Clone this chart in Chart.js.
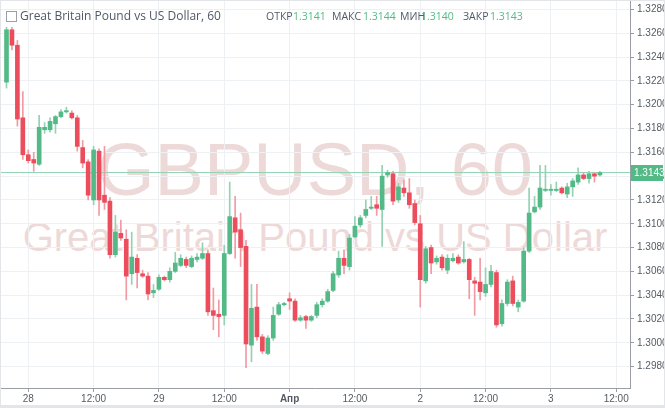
<!DOCTYPE html>
<html>
<head>
<meta charset="utf-8">
<script src="https://cdn.jsdelivr.net/npm/chart.js@4.4.0/dist/chart.umd.min.js"></script>
<style>
    body { margin: 0; background: #fff; }
    #wrap { position: relative; width: 665px; height: 408px; overflow: hidden; }
    #wm { position: absolute; left: 0; top: 0; width: 630px; color: #eed9d9;
          font-family: "Liberation Sans", Arial, sans-serif; text-align: center; z-index: 0; }
    #wm .l1 { position: absolute; left: 0; width: 630px; top: 126px; font-size: 74px; line-height: 88px; }
    #wm .l2 { position: absolute; left: 0; width: 630px; top: 215px; font-size: 40px; line-height: 44px; }
    #chart { position: absolute; left: 0; top: 0; z-index: 1; }
    #head { position: absolute; left: 0; top: 7px; z-index: 2; font-family: "Open Sans", sans-serif;
            white-space: nowrap; color: #4f5966; }
    #head span { position: absolute; top: 0; line-height: 18px; }
    #head .title { left: 20px; font-size: 12px; }
    #head .k { font-size: 10.5px; color: #4f5966; }
    #head .v { font-size: 10.5px; color: #53b987; }
    #head .box { top: 4px; width: 9px; height: 9px; border: 1px solid #9aa0a8; }
    #frame { position: absolute; left: 0; top: 0; right: 0; bottom: 0; border: 1px solid #e3e5e8;
             border-bottom-width: 3px; z-index: 3; pointer-events: none; }
</style>
</head>
<body>
<div id="wrap">
    <div id="wm">
        <div class="l1">GBPUSD, 60</div>
        <div class="l2">Great Britain Pound vs US Dollar</div>
    </div>
    <canvas id="chart" width="665" height="408"></canvas>
    <div id="head">
        <span class="box" style="left:6px"></span>
        <span class="title">Great Britain Pound vs US Dollar, 60</span>
        <span class="k" style="left:266px">ОТКР</span><span class="v" style="left:293px">1.3141</span>
        <span class="k" style="left:332px">МАКС</span><span class="v" style="left:363px">1.3144</span>
        <span class="k" style="left:400px">МИН</span><span class="v" style="left:421px">1.3140</span>
        <span class="k" style="left:463px">ЗАКР</span><span class="v" style="left:490px">1.3143</span>
    </div>
    <div id="frame"></div>
</div>
<script>
// hourly candles, GBPUSD 60
var opens = [1.3219, 1.3263, 1.3250, 1.3189, 1.3158, 1.3154, 1.3150, 1.3179, 1.3179, 1.3184,
    1.3190, 1.3194, 1.3193, 1.3189, 1.3164, 1.3152, 1.3120, 1.3161, 1.3124, 1.3119,
    1.3074, 1.3092, 1.3087, 1.3058, 1.3071, 1.3058, 1.3056, 1.3042, 1.3045, 1.3055,
    1.3053, 1.3060, 1.3065, 1.3070, 1.3064, 1.3070, 1.3071, 1.3075, 1.3027, 1.3024,
    1.3023, 1.3075, 1.3105, 1.3095, 1.3081, 1.2998, 1.3030, 1.3005, 1.2991, 1.3004,
    1.3024, 1.3032, 1.3037, 1.3035, 1.3019, 1.3022, 1.3019, 1.3023, 1.3032, 1.3035,
    1.3044, 1.3057, 1.3071, 1.3064, 1.3089, 1.3099, 1.3107, 1.3113, 1.3116, 1.3112,
    1.3141, 1.3142, 1.3120, 1.3130, 1.3126, 1.3117, 1.3100, 1.3052, 1.3080, 1.3068,
    1.3072, 1.3061, 1.3069, 1.3072, 1.3068, 1.3070, 1.3052, 1.3051, 1.3042, 1.3049,
    1.3059, 1.3016, 1.3033, 1.3052, 1.3030, 1.3035, 1.3077, 1.3110, 1.3114, 1.3128,
    1.3128, 1.3128, 1.3130, 1.3125, 1.3131, 1.3135, 1.3141, 1.3138, 1.3142, 1.3141];
var highs = [1.3265, 1.3265, 1.3254, 1.3211, 1.3162, 1.3160, 1.3191, 1.3185, 1.3189, 1.3191,
    1.3196, 1.3198, 1.3195, 1.3191, 1.3170, 1.3154, 1.3165, 1.3163, 1.3165, 1.3122,
    1.3107, 1.3103, 1.3095, 1.3093, 1.3074, 1.3061, 1.3059, 1.3049, 1.3057, 1.3056,
    1.3063, 1.3076, 1.3074, 1.3072, 1.3073, 1.3075, 1.3084, 1.3078, 1.3046, 1.3036,
    1.3082, 1.3135, 1.3123, 1.3109, 1.3086, 1.3049, 1.3049, 1.3007, 1.3006, 1.3030,
    1.3034, 1.3034, 1.3042, 1.3037, 1.3023, 1.3023, 1.3023, 1.3034, 1.3037, 1.3045,
    1.3060, 1.3077, 1.3078, 1.3091, 1.3106, 1.3107, 1.3120, 1.3123, 1.3123, 1.3149,
    1.3145, 1.3144, 1.3134, 1.3137, 1.3138, 1.3120, 1.3107, 1.3081, 1.3082, 1.3073,
    1.3074, 1.3074, 1.3075, 1.3074, 1.3085, 1.3071, 1.3055, 1.3071, 1.3063, 1.3065,
    1.3061, 1.3036, 1.3053, 1.3056, 1.3036, 1.3080, 1.3130, 1.3123, 1.3149, 1.3149,
    1.3133, 1.3135, 1.3131, 1.3134, 1.3138, 1.3147, 1.3143, 1.3144, 1.3143, 1.3144];
var lows = [1.3214, 1.3246, 1.3182, 1.3154, 1.3151, 1.3144, 1.3149, 1.3176, 1.3177, 1.3176,
    1.3189, 1.3193, 1.3188, 1.3161, 1.3147, 1.3120, 1.3116, 1.3107, 1.3112, 1.3071,
    1.3072, 1.3086, 1.3036, 1.3049, 1.3046, 1.3055, 1.3036, 1.3038, 1.3044, 1.3052,
    1.3051, 1.3059, 1.3064, 1.3063, 1.3063, 1.3068, 1.3070, 1.3023, 1.3011, 1.3005,
    1.3015, 1.3074, 1.3071, 1.3064, 1.2979, 1.2984, 1.3002, 1.2991, 1.2990, 1.3002,
    1.3023, 1.3031, 1.3028, 1.3018, 1.3018, 1.3012, 1.3018, 1.3021, 1.3030, 1.3034,
    1.3043, 1.3055, 1.3058, 1.3061, 1.3088, 1.3097, 1.3105, 1.3112, 1.3107, 1.3081,
    1.3139, 1.3116, 1.3118, 1.3123, 1.3113, 1.3099, 1.3030, 1.3050, 1.3058, 1.3066,
    1.3061, 1.3058, 1.3068, 1.3066, 1.3067, 1.3037, 1.3023, 1.3036, 1.3039, 1.3047,
    1.3013, 1.3014, 1.3031, 1.3031, 1.3026, 1.3034, 1.3076, 1.3109, 1.3112, 1.3127,
    1.3124, 1.3127, 1.3125, 1.3122, 1.3123, 1.3133, 1.3137, 1.3134, 1.3135, 1.3140];
var closes = [1.3263, 1.3250, 1.3188, 1.3158, 1.3153, 1.3151, 1.3181, 1.3181, 1.3186, 1.3190,
    1.3194, 1.3195, 1.3189, 1.3165, 1.3151, 1.3124, 1.3162, 1.3120, 1.3118, 1.3074,
    1.3093, 1.3088, 1.3056, 1.3072, 1.3059, 1.3056, 1.3041, 1.3044, 1.3055, 1.3053,
    1.3060, 1.3067, 1.3071, 1.3065, 1.3071, 1.3072, 1.3075, 1.3026, 1.3023, 1.3022,
    1.3075, 1.3106, 1.3093, 1.3080, 1.2999, 1.3029, 1.3005, 1.2993, 1.3004, 1.3023,
    1.3032, 1.3033, 1.3035, 1.3019, 1.3021, 1.3019, 1.3022, 1.3032, 1.3035, 1.3043,
    1.3058, 1.3071, 1.3065, 1.3088, 1.3098, 1.3105, 1.3112, 1.3114, 1.3113, 1.3140,
    1.3143, 1.3119, 1.3131, 1.3126, 1.3116, 1.3101, 1.3053, 1.3079, 1.3067, 1.3071,
    1.3063, 1.3071, 1.3071, 1.3067, 1.3070, 1.3053, 1.3050, 1.3043, 1.3049, 1.3060,
    1.3015, 1.3033, 1.3051, 1.3033, 1.3034, 1.3077, 1.3109, 1.3114, 1.3130, 1.3129,
    1.3129, 1.3129, 1.3126, 1.3131, 1.3136, 1.3141, 1.3138, 1.3142, 1.3140, 1.3143];

var lastPrice = 1.3143;

// x tick positions (candle index) and their labels
var tickIdx = [4, 16, 28, 40, 52, 64, 76, 88, 100, 112];
var tickText = ['28', '12:00', '29', '12:00', 'Апр', '12:00', '2', '12:00', '3', '12:00'];

var upColor = '#53b987', downColor = '#eb4d5c';
var upWick = '#93d2b3', downWick = '#f29aa3';

var isUp = closes.map(function(c, i) { return c >= opens[i]; });
var bodies = closes.map(function(c, i) { return {x: i, y: [opens[i], c]}; });
var wicks = highs.map(function(h, i) { return {x: i, y: [lows[i], h]}; });

// green price label on the right axis
var priceLabel = {
    id: 'priceLabel',
    afterDraw: function(chart) {
        var ctx = chart.ctx;
        var y = Math.round(chart.scales.y.getPixelForValue(lastPrice));
        ctx.save();
        ctx.fillStyle = upColor;
        ctx.fillRect(chart.chartArea.right + 1, y - 8, 32, 16);
        ctx.fillStyle = '#fff';
        ctx.font = '10px "Liberation Sans", Arial, sans-serif';
        ctx.textBaseline = 'middle';
        ctx.fillText(lastPrice.toFixed(4), chart.chartArea.right + 4, y + 0.5);
        ctx.restore();
    }
};

var fontFamily = '"Liberation Sans", Arial, sans-serif';

new Chart(document.getElementById('chart'), {
    type: 'bar',
    data: {
        datasets: [
            {
                type: 'line',
                data: [{x: -2, y: lastPrice}, {x: 120, y: lastPrice}],
                borderColor: '#8ed3b2',
                borderWidth: 1,
                pointRadius: 0,
                order: 3
            },
            {
                data: wicks,
                backgroundColor: isUp.map(function(u) { return u ? upWick : downWick; }),
                barThickness: 1,
                grouped: false,
                order: 2
            },
            {
                data: bodies,
                backgroundColor: isUp.map(function(u) { return u ? upColor : downColor; }),
                barThickness: 4,
                minBarLength: 1,
                grouped: false,
                order: 1
            }
        ]
    },
    options: {
        responsive: false,
        animation: false,
        layout: {padding: 0, autoPadding: false},
        plugins: {legend: {display: false}, tooltip: {enabled: false}},
        scales: {
            x: {
                type: 'linear',
                offset: false,
                min: -1.194,
                max: 114.53,
                afterBuildTicks: function(scale) {
                    scale.ticks = tickIdx.map(function(v) { return {value: v}; });
                },
                afterFit: function(scale) {
                    scale.height = 20;
                    scale.paddingLeft = 0;
                    scale.paddingRight = 0;
                },
                ticks: {
                    autoSkip: false,
                    maxRotation: 0,
                    padding: 1,
                    color: '#555b63',
                    font: function(ctx) {
                        var bold = ctx.tick && ctx.tick.value === 52;
                        return {family: fontFamily, size: 10, weight: bold ? 'bold' : 'normal'};
                    },
                    callback: function(v) { return tickText[tickIdx.indexOf(v)]; }
                },
                grid: {offset: false, color: '#eef1f4', tickLength: 4, tickColor: '#9a9ea4'},
                border: {color: '#9a9ea4'}
            },
            y: {
                position: 'right',
                min: 1.2962,
                max: 1.3288,
                afterFit: function(scale) {
                    scale.width = 35;
                    scale.paddingTop = 0;
                    scale.paddingBottom = 0;
                },
                ticks: {
                    stepSize: 0.002,
                    includeBounds: false,
                    padding: 3,
                    color: '#555b63',
                    font: {family: fontFamily, size: 10},
                    callback: function(v) { return v.toFixed(4); }
                },
                grid: {color: '#eef1f4', tickLength: 4, tickColor: '#9a9ea4'},
                border: {color: '#9a9ea4'}
            }
        }
    },
    plugins: [priceLabel]
});
</script>
</body>
</html>
